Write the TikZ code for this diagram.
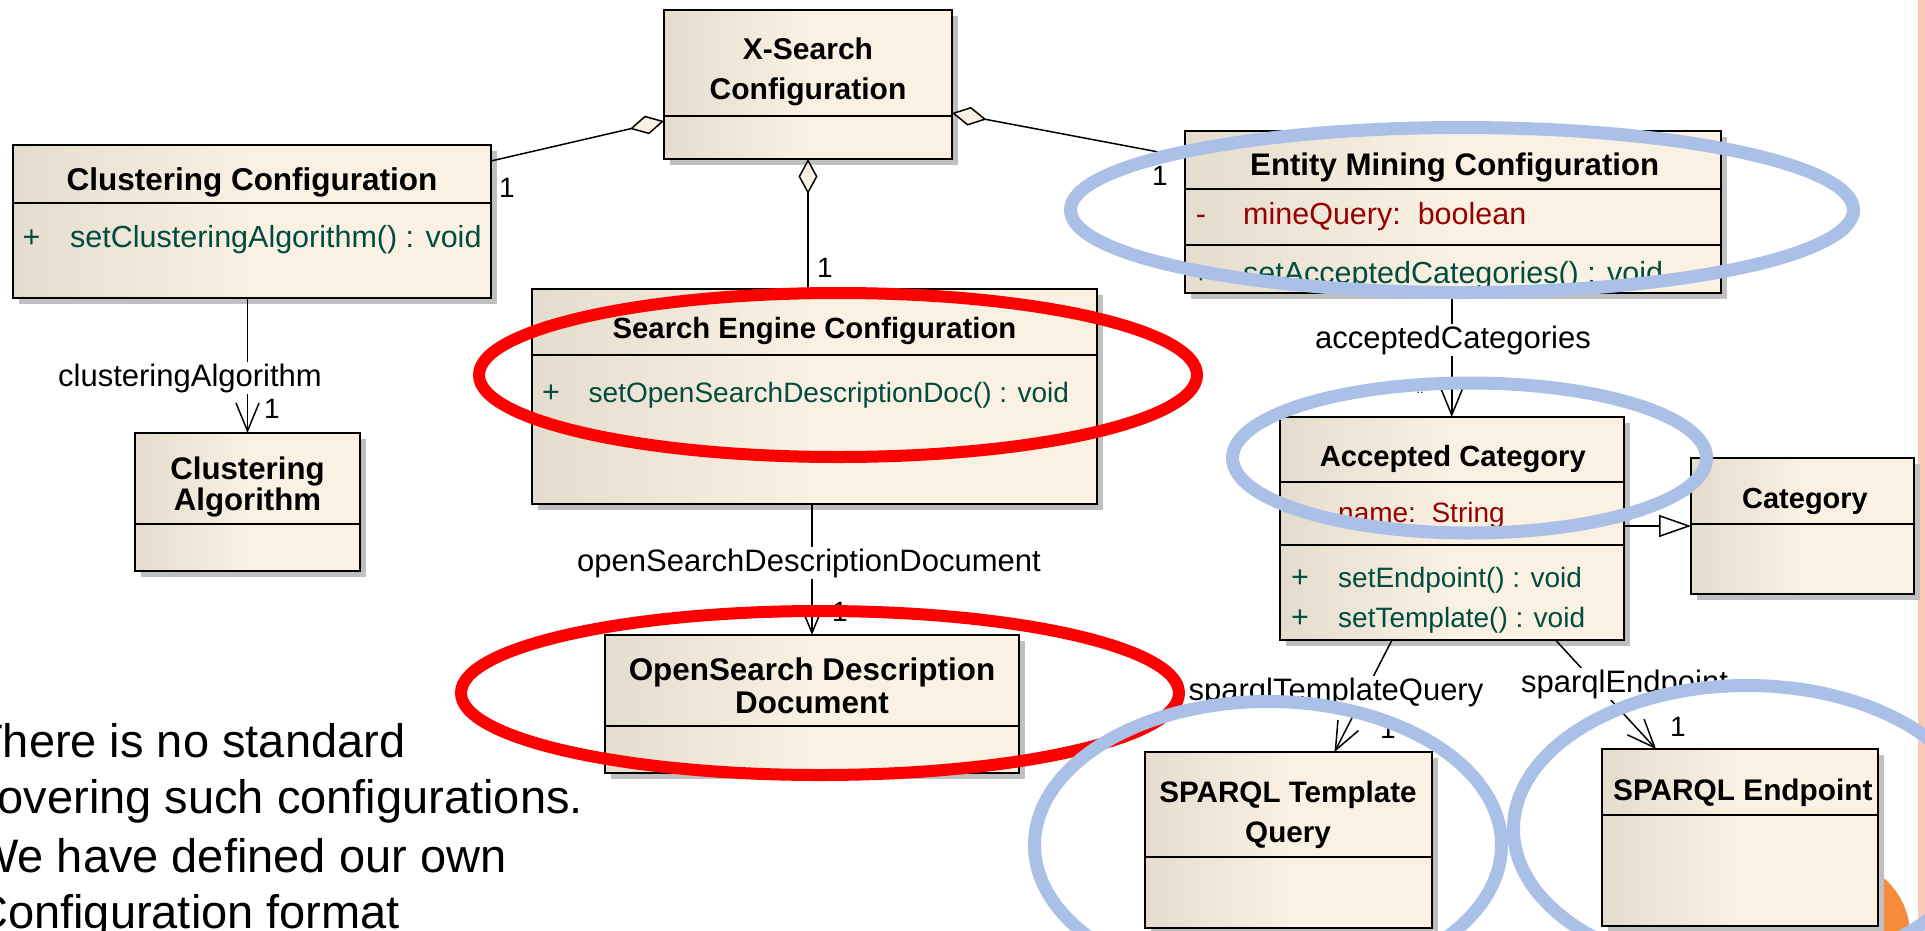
\documentclass[tikz,border=0pt]{standalone}
\usepackage{fontspec}
\setmainfont{Liberation Sans}
\usetikzlibrary{arrows.meta,shadows}
\definecolor{boxL}{RGB}{228,220,205}
\definecolor{boxR}{RGB}{250,241,227}
\definecolor{shadowgray}{RGB}{192,192,192}
\definecolor{mthcol}{RGB}{0,77,64}
\definecolor{attcol}{RGB}{150,0,0}
\definecolor{hlred}{RGB}{255,0,0}
\definecolor{hlblue}{RGB}{170,192,230}
\definecolor{pinkstrip}{RGB}{252,200,182}
\definecolor{orangedot}{RGB}{248,140,60}
\newcommand\regfont{\fontsize{30.5}{36}\selectfont}
\newcommand\lblfont{\fontsize{31}{36}\selectfont}
\newcommand\smfont{\fontsize{28}{34}\selectfont}
\newcommand\multfont{\fontsize{28}{32}\selectfont}
\newcommand\bigfont{\fontsize{47}{57}\selectfont}
\begin{document}
\begin{tikzpicture}[x=1pt,y=-1pt,
  cls/.style={draw=black, line width=2pt, left color=boxL, right color=boxR, middle color=boxR,
    drop shadow={shadow xshift=6pt, shadow yshift=-6pt, fill=shadowgray, opacity=1},
    inner sep=0pt, outer sep=0pt},
  div/.style={line width=2pt},
  ttl/.style={font=\bfseries\fontsize{#1}{36}\selectfont, anchor=base, inner sep=0pt},
  ttl/.default=30,
  mth/.style={font=\regfont, text=mthcol, anchor=base west, inner sep=0pt},
  sym/.style={font=\regfont, anchor=base, inner sep=0pt},
  attr/.style={font=\regfont, text=attcol, anchor=base west, inner sep=0pt},
  lbl/.style={font=\lblfont, fill=white, inner sep=2pt, anchor=base},
  mult/.style={font=\multfont, anchor=base, inner sep=0pt},
  conn/.style={line width=1.5pt},
  agg/.style={conn, {Diamond[length=35pt,width=19pt,fill=boxR]}-},
  nav/.style={conn, -{Straight Barb[length=28pt,width=23pt]}},
  gen/.style={conn, -{Triangle[length=32pt,width=22pt,fill=white]}},
  redring/.style={draw=hlred, line width=12pt},
  bluering/.style={draw=hlblue, line width=13pt},
  slide/.style={font=\bigfont, anchor=base west, inner sep=0pt}]
\useasboundingbox (0,0) rectangle (1925,930);
\clip (0,0) rectangle (1925,930);
\fill[white] (0,0) rectangle (1925,930);
\fill[pinkstrip] (1918,0) rectangle (1925,930);
\fill[orangedot] (1835,935) circle[radius=75pt];

% ---- class boxes ----
\node[cls, minimum width=288pt, minimum height=149pt] (xsc) at (808,84.5) {};
\node[cls, minimum width=478.5pt, minimum height=153pt] (clc) at (251.75,221.5) {};
\node[cls, minimum width=536pt, minimum height=162pt] (emc) at (1453,212) {};
\node[cls, minimum width=565pt, minimum height=215pt] (sec) at (814.5,396.5) {};
\node[cls, minimum width=225pt, minimum height=138pt] (cla) at (247.5,502) {};
\node[cls, minimum width=414pt, minimum height=138pt] (osd) at (812,704) {};
\node[cls, minimum width=343.5pt, minimum height=223pt] (acc) at (1451.75,528.5) {};
\node[cls, minimum width=223pt, minimum height=136pt] (cat) at (1802.5,526) {};
\node[cls, minimum width=287.5pt, minimum height=176pt] (stq) at (1288.25,840) {};
\node[cls, minimum width=276pt, minimum height=177pt] (spe) at (1740,837.5) {};

% ---- compartment dividers ----
\draw[div] (xsc.west |- 0,116) -- (xsc.east |- 0,116);
\draw[div] (clc.west |- 0,203) -- (clc.east |- 0,203);
\draw[div] (emc.west |- 0,189) -- (emc.east |- 0,189);
\draw[div] (emc.west |- 0,245) -- (emc.east |- 0,245);
\draw[div] (sec.west |- 0,355) -- (sec.east |- 0,355);
\draw[div] (cla.west |- 0,524) -- (cla.east |- 0,524);
\draw[div] (osd.west |- 0,726) -- (osd.east |- 0,726);
\draw[div] (acc.west |- 0,482) -- (acc.east |- 0,482);
\draw[div] (acc.west |- 0,545) -- (acc.east |- 0,545);
\draw[div] (cat.west |- 0,524) -- (cat.east |- 0,524);
\draw[div] (stq.west |- 0,857) -- (stq.east |- 0,857);
\draw[div] (spe.west |- 0,815) -- (spe.east |- 0,815);

% ---- class texts ----
\node[ttl] (xsc-t1) at (808,59) {X-Search};
\node[ttl] (xsc-t2) at (808,99) {Configuration};
\node[ttl=31.5] (clc-t) at (252,190) {Clustering Configuration};
\node[sym, text=mthcol] (clc-p) at (31.5,247) {+};
\node[mth] (clc-m) at (70,247) {setClusteringAlgorithm() : void};
\node[ttl=31.2] (emc-t) at (1454.7,175) {Entity Mining Configuration};
\node[sym, text=attcol] (emc-d) at (1201,224) {-};
\node[attr] (emc-a) at (1243,224) {mineQuery:\ \ boolean};
\node[sym, text=mthcol] (emc-p) at (1201,283) {+};
\node[mth] (emc-m) at (1243,283) {setAcceptedCategories() : void};
\node[ttl=29.3] (sec-t) at (814.5,338) {Search Engine Configuration};
\node[sym, text=mthcol] (sec-p) at (551,402) {+};
\node[mth, font=\smfont] (sec-m) at (588.5,402) {setOpenSearchDescriptionDoc() : void};
\node[ttl=31.2] (cla-t1) at (247.5,479) {Clustering};
\node[ttl=31.2] (cla-t2) at (247.5,510) {Algorithm};
\node[ttl=31.4] (osd-t1) at (812,680) {OpenSearch Description};
\node[ttl=31.4] (osd-t2) at (812,713) {Document};
\node[ttl=29.2] (acc-t) at (1452.8,466) {Accepted Category};
\node[sym, text=attcol] (acc-d) at (1300,522) {-};
\node[attr, font=\smfont] (acc-a) at (1338,522) {name:\ \ String};
\node[sym, text=mthcol] (acc-p1) at (1300,587) {+};
\node[mth, font=\smfont] (acc-m1) at (1338,587) {setEndpoint() : void};
\node[sym, text=mthcol] (acc-p2) at (1300,627) {+};
\node[mth, font=\smfont] (acc-m2) at (1338,627) {setTemplate() : void};
\node[ttl=29] (cat-t) at (1805,508) {Category};
\node[ttl=29.6] (stq-t1) at (1288,802) {SPARQL Template};
\node[ttl=29.6] (stq-t2) at (1288,842) {Query};
\node[ttl=29.8] (spe-t) at (1742.8,800) {SPARQL Endpoint};

% ---- connectors ----
\draw[agg] ([yshift=38pt]xsc.south west) -- ([yshift=-16pt]clc.north east);
\draw[agg] ([yshift=46pt]xsc.south east) -- ([yshift=-26pt]emc.north west);
\draw[agg] (xsc.south) -- (xsc.south |- sec.north);
\draw[nav] (clc.south -| cla.north) -- (cla.north);
\draw[nav] (sec.south -| osd.north) -- (osd.north);
\draw[nav] (emc.south -| acc.north) -- (acc.north);
\draw[gen] (acc.east |- cat.west) -- (cat.west);
\draw[nav] ([xshift=112pt]acc.south west) -- ([xshift=190pt]stq.north west);
\draw[nav] ([xshift=-68pt]acc.south east) -- ([xshift=54pt]spe.north west);

% ---- connector labels ----
\node[lbl] (l-clalg) at (190,386) {clusteringAlgorithm};
\node[lbl] (l-osdd) at (809,571) {openSearchDescriptionDocument};
\node[lbl] (l-acccat) at (1453,348) {acceptedCategories};
\node[lbl] (l-stq) at (1336,700) {sparqlTemplateQuery};
\node[lbl] (l-spe) at (1624.5,692) {sparqlEndpoint};
\node[mult] (m1) at (507,197) {1};
\node[mult] (m2) at (1160,185) {1};
\node[mult] (m3) at (825,277) {1};
\node[mult] (m4) at (272,418) {1};
\node[mult] (m5) at (840,621) {1};
\node[mult] (m6) at (1388,738) {1};
\node[mult] (m7) at (1678,736) {1};
\node[font=\fontsize{12}{12}\selectfont, anchor=base, inner sep=0pt] (m8) at (1420,393) {..};

% ---- slide text (cut at the left edge, as in the slide) ----
\node[slide] (s1) at (-26,757) {There is no standard};
\node[slide] (s2) at (-26,813) {covering such configurations.};
\node[slide] (s3) at (-26,872) {We have defined our own};
\node[slide] (s4) at (-26,928) {Configuration format};

% ---- highlight rings ----
\draw[redring] (838,375) ellipse [x radius=359pt, y radius=82pt];
\draw[redring] (820,693) ellipse [x radius=359pt, y radius=82pt];
\draw[bluering] (1462,210) ellipse [x radius=391.5pt, y radius=82.5pt];
\draw[bluering] (1469.5,458) ellipse [x radius=237pt, y radius=75pt];
\draw[bluering] (1268,845) ellipse [x radius=233.5pt, y radius=143.5pt];
\draw[bluering] (1747,829) ellipse [x radius=233.5pt, y radius=143.5pt];
\end{tikzpicture}
\end{document}
